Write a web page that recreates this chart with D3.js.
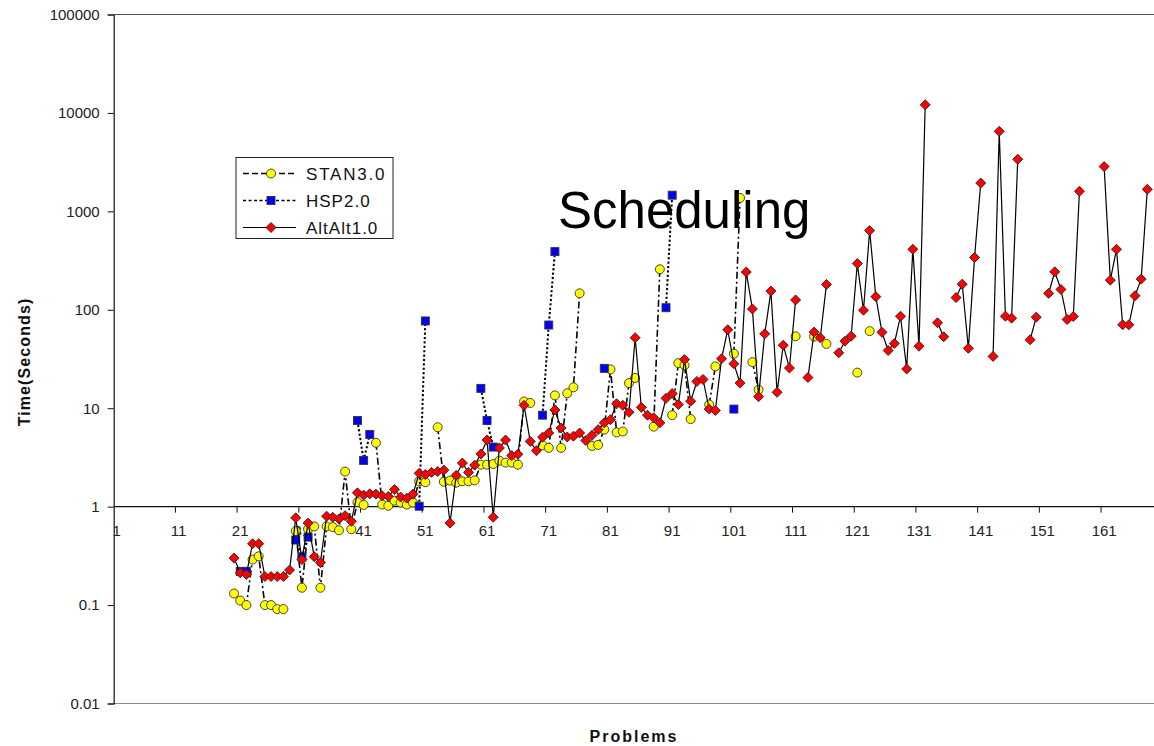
<!DOCTYPE html>
<html>
<head>
<meta charset="utf-8">
<script src="https://cdn.jsdelivr.net/npm/d3@7/dist/d3.min.js"></script>
<style>
  html, body { margin: 0; padding: 0; background: #fff; }
  svg { display: block; font-family: "Liberation Sans", Arial, sans-serif; }
</style>
</head>
<body>
<svg id="chart" width="1154" height="746"></svg>
<script>
// ---- data -------------------------------------------------------------
const problemCount = 169;
const xTickProblems = [1, 11, 21, 31, 41, 51, 61, 71, 81, 91, 101, 111, 121, 131, 141, 151, 161];
const yTickValues = [0.01, 0.1, 1, 10, 100, 1000, 10000, 100000];
const yTickLabels = ["0.01", "0.1", "1", "10", "100", "1000", "10000", "100000"];

// STAN3.0 run times, problems 20 .. 123 (null = no result)
const stanFirst = 20;
const stanTimes = [
  0.131, 0.111, 0.100, 0.29, 0.313, 0.100, 0.100, 0.091, 0.091, null,
  0.565, 0.15, 0.59, 0.63, 0.15, 0.63, 0.62, 0.575, 2.27, 0.59,
  1.11, 1.04, null, 4.45, 1.05, 1.02, 1.15, 1.10, 1.05, 1.10,
  1.81, 1.77, null, 6.4, 1.79, 1.84, 1.75, 1.81, 1.81, 1.85,
  2.67, 2.67, 2.71, 2.93, 2.80, 2.80, 2.67, 11.7, 11.3, null,
  4.2, 3.96, 13.5, 3.95, 14.2, 16.3, 147, null, 4.14, 4.24,
  6.06, 24.8, 5.68, 5.8, 18.0, 20.3, null, null, 6.5, 258,
  null, 8.5, 28.7, 27.3, 7.76, null, null, 10.9, 26.6, null,
  null, 35.8, 1370, null, 29.4, 15.4, null, null, null, null,
  null, 53.8, null, null, 53.5, null, 45, null, null, null,
  null, 23.0, null, 60.7
];

// HSP2.0 run times (solved problems only)
const hspProblems = [21, 22, 30, 31, 32, 40, 41, 42, 50, 51, 60, 61, 62, 70, 71, 72, 80, 90, 91, 101];
const hspTimes    = [0.22, 0.22, 0.458, 0.308, 0.49, 7.5, 2.95, 5.42, 1.01, 77, 15.9, 7.5, 4.03, 8.5, 70, 390, 25.4, 105, 1460, 9.8];

// AltAlt1.0 run times, problems 20 .. 168 (null = no result)
const altaltFirst = 20;
const altaltTimes = [
  0.30, 0.213, 0.205, 0.42, 0.42, 0.195, 0.195, 0.195, 0.195, 0.227,
  0.77, 0.29, 0.68, 0.31, 0.27, 0.80, 0.78, 0.75, 0.81, 0.71,
  1.38, 1.31, 1.35, 1.34, 1.29, 1.27, 1.49, 1.25, 1.22, 1.34,
  2.18, 2.12, 2.23, 2.27, 2.35, 0.68, 2.08, 2.77, 2.23, 2.64,
  3.43, 4.75, 0.78, 3.95, 4.75, 3.3, 3.4, 10.7, 4.6, 3.7,
  5.08, 5.6, 9.6, 6.3, 5.1, 5.2, 5.6, 4.7, 5.3, 6.06,
  7.1, 7.65, 11.1, 10.7, 9.1, 52, 10.2, 8.5, 8.0, 7.1,
  12.6, 14.1, 10.9, 31.2, 11.8, 18.7, 19.6, 9.8, 9.5, 31.8,
  62.7, 28.3, 18.0, 242, 102, 13.1, 57, 155, 14.5, 43.7,
  25.6, 126, null, 20.5, 59.3, 52, 181, null, 36.6, 48,
  54, 295, 99, 638, 136, 59, 38.6, 45.5, 86, 25,
  412, 42.7, 12100, null, 73.8, 53.2, null, 133, 182, 40.6,
  340, 1940, null, 33.6, 6500, 86.1, 82.2, 3380, null, 49.6,
  84.2, null, 147, 243, 161, 79.7, 85.5, 1600, null, null,
  null, 2850, 200, 412, 70.4, 70.4, 139, 205, 1676
];

// ---- series tables -------------------------------------------------------
function denseSeries(first, values) {
  return values.map((v, i) => ({ p: first + i, v: v }));
}
function sparseSeries(problems, values) {
  const lo = d3.min(problems), hi = d3.max(problems);
  const byProblem = new Map(problems.map((p, i) => [p, values[i]]));
  return d3.range(lo, hi + 1).map(p => ({ p: p, v: byProblem.has(p) ? byProblem.get(p) : null }));
}

const series = [
  { name: "STAN3.0",   data: denseSeries(stanFirst, stanTimes),          marker: "circle",
    fill: "#ffff00", dash: "7,3,2,3", lineWidth: 1.6 },
  { name: "HSP2.0",    data: sparseSeries(hspProblems, hspTimes),        marker: "square",
    fill: "#0000ff", dash: "2.2,2.2", lineWidth: 2 },
  { name: "AltAlt1.0", data: denseSeries(altaltFirst, altaltTimes),      marker: "diamond",
    fill: "#ff0000", dash: null, lineWidth: 1.2 }
];

// ---- layout -----------------------------------------------------------------
const svg = d3.select("#chart");
const plotLeft = 113.7, catWidth = 6.171;
const plotTop = 14.5, plotBottom = 703.5;
const plotRight = plotLeft + problemCount * catWidth;

const x = d3.scaleLinear().domain([0.5, problemCount + 0.5]).range([plotLeft, plotRight]);
const y = d3.scaleLog().domain([0.01, 100000]).range([plotBottom, plotTop]);

// plot area frame
svg.append("line").attr("x1", plotLeft).attr("x2", 1154).attr("y1", plotTop).attr("y2", plotTop)
  .attr("stroke", "#555").attr("stroke-width", 1);
svg.append("line").attr("x1", plotLeft).attr("x2", 1154).attr("y1", plotBottom).attr("y2", plotBottom)
  .attr("stroke", "#888").attr("stroke-width", 1);

// y axis
const yAxis = d3.axisLeft(y).tickValues(yTickValues)
  .tickFormat((d, i) => yTickLabels[i]).tickSize(6).tickPadding(8);
const gy = svg.append("g").attr("transform", `translate(${plotLeft},0)`).call(yAxis);
gy.select(".domain").attr("stroke", "#111").attr("stroke-width", 1.2);
gy.selectAll(".tick line").attr("stroke", "#111");
gy.selectAll("text").attr("font-size", 15).attr("fill", "#222")
  .attr("font-family", "'Liberation Sans', Arial, sans-serif");

// x axis crossing at 1 second; ticks sit between categories, labels at category centres
const xAxisY = y(1);
const gx = svg.append("g").attr("transform", `translate(0,${xAxisY})`);
gx.append("line").attr("x1", plotLeft).attr("x2", 1154).attr("y1", 0).attr("y2", 0)
  .attr("stroke", "#111").attr("stroke-width", 1.2);
gx.selectAll("line.tick").data(xTickProblems.slice(1)).join("line")
  .attr("class", "tick")
  .attr("x1", d => x(d - 0.5)).attr("x2", d => x(d - 0.5))
  .attr("y1", 0).attr("y2", 6).attr("stroke", "#111");
gx.selectAll("text").data(xTickProblems).join("text")
  .attr("x", d => x(d)).attr("y", 29)
  .attr("text-anchor", "middle").attr("font-size", 15).attr("fill", "#222")
  .text(d => d);

// ---- series -------------------------------------------------------------------
const line = d3.line().defined(d => d.v != null).x(d => x(d.p)).y(d => y(d.v));

function drawMarker(g, kind, cx, cy, fill) {
  if (kind === "circle") {
    g.append("circle").attr("cx", cx).attr("cy", cy).attr("r", 4.5)
      .attr("fill", fill).attr("stroke", "#333").attr("stroke-width", 0.9);
  } else if (kind === "square") {
    g.append("rect").attr("x", cx - 4).attr("y", cy - 4).attr("width", 8).attr("height", 8)
      .attr("fill", fill).attr("stroke", "#333").attr("stroke-width", 0.9);
  } else {
    const r = 5;
    g.append("path").attr("d", `M${cx},${cy - r}L${cx + r},${cy}L${cx},${cy + r}L${cx - r},${cy}Z`)
      .attr("fill", fill).attr("stroke", "#222").attr("stroke-width", 0.9);
  }
}

series.forEach(s => {
  const g = svg.append("g").attr("class", "series");
  g.append("path").datum(s.data).attr("d", line)
    .attr("fill", "none").attr("stroke", "#000").attr("stroke-width", s.lineWidth)
    .attr("stroke-dasharray", s.dash);
  s.data.filter(d => d.v != null).forEach(d => drawMarker(g, s.marker, x(d.p), y(d.v), s.fill));
});

// ---- legend -------------------------------------------------------------------
const legend = svg.append("g").attr("transform", "translate(236,157.5)");
legend.append("rect").attr("width", 157).attr("height", 81)
  .attr("fill", "#fff").attr("stroke", "#222").attr("stroke-width", 1);
series.forEach((s, i) => {
  const ly = 16 + i * 27;
  legend.append("line").attr("x1", 7).attr("x2", 60).attr("y1", ly).attr("y2", ly)
    .attr("stroke", "#000").attr("stroke-width", s.dash ? 1.3 : 1.2)
    .attr("stroke-dasharray", s.name === "STAN3.0" ? "6,3" : (s.dash ? "3,2.5" : null));
  drawMarker(legend, s.marker, 35, ly, s.fill);
  legend.append("text").attr("x", 70).attr("y", ly + 6)
    .attr("font-size", 17).attr("letter-spacing", s.name === "STAN3.0" ? 1.8 : 1)
    .attr("fill", "#111").text(s.name);
});

// ---- titles -------------------------------------------------------------------
svg.append("text").attr("x", 558).attr("y", 228).attr("font-size", 51).attr("fill", "#000")
  .text("Scheduling");
svg.append("text").attr("transform", "translate(30,362) rotate(-90)")
  .attr("text-anchor", "middle").attr("font-size", 16).attr("font-weight", "bold")
  .attr("letter-spacing", 1.1).attr("fill", "#111").text("Time(Seconds)");
svg.append("text").attr("x", 634).attr("y", 742).attr("text-anchor", "middle")
  .attr("font-size", 16).attr("font-weight", "bold").attr("letter-spacing", 2)
  .attr("fill", "#111").text("Problems");
</script>
</body>
</html>
